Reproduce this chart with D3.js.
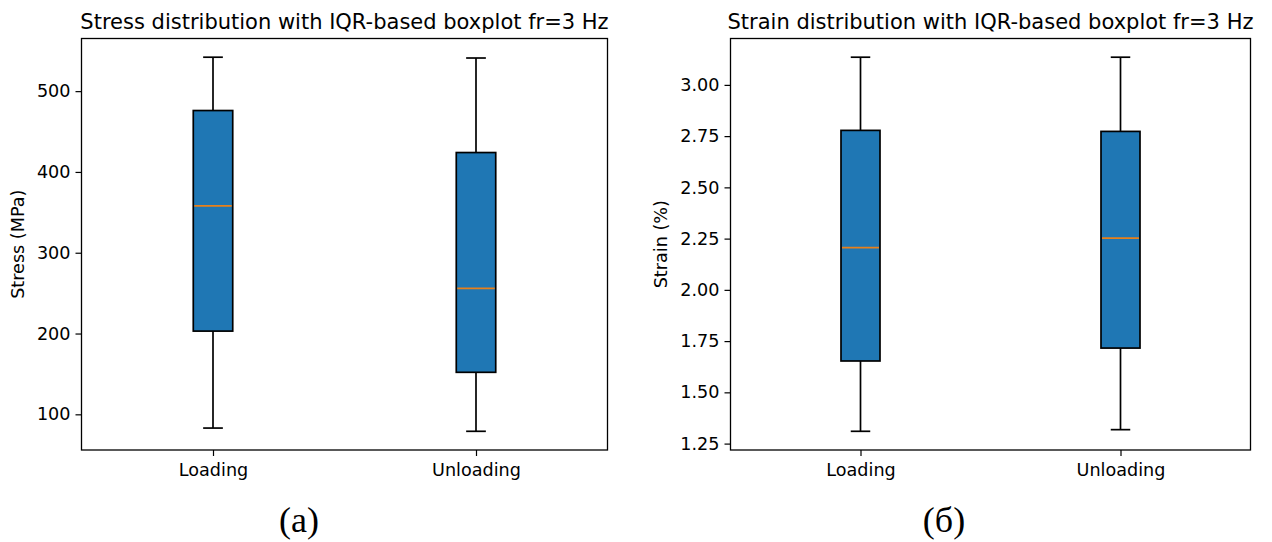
<!DOCTYPE html>
<html>
<head>
<meta charset="utf-8">
<script src="https://cdn.jsdelivr.net/npm/d3@7"></script>
<style>
  html, body { margin: 0; padding: 0; background: #fff; }
  svg { display: block; }
  text { font-family: "DejaVu Sans", sans-serif; fill: #000; }
</style>
</head>
<body>
<svg id="chart" width="1272" height="542"></svg>
<script>
// Box statistics per phase (whisker ends, quartiles, median)
const categories = ["Loading", "Unloading"];

const stressLow    = [83, 79];
const stressQ1     = [203, 152];
const stressMedian = [358, 256];
const stressQ3     = [476, 424];
const stressHigh   = [542, 541];
const stressTicks  = [100, 200, 300, 400, 500];

const strainLow    = [1.31, 1.318];
const strainQ1     = [1.653, 1.716];
const strainMedian = [2.206, 2.252];
const strainQ3     = [2.778, 2.773];
const strainHigh   = [3.135, 3.135];
const strainTicks  = [1.25, 1.50, 1.75, 2.00, 2.25, 2.50, 2.75, 3.00];

const panels = [
  {
    title: "Stress distribution with IQR-based boxplot fr=3 Hz",
    ylabel: "Stress (MPa)",
    caption: "(a)",
    low: stressLow, q1: stressQ1, med: stressMedian, q3: stressQ3, high: stressHigh,
    ticks: stressTicks, fmt: d3.format("d"),
    frame: { x0: 81.5, x1: 607.5, y0: 38.5, y1: 450 },
    ylabelX: 24, captionX: 299
  },
  {
    title: "Strain distribution with IQR-based boxplot fr=3 Hz",
    ylabel: "Strain (%)",
    caption: "(б)",
    low: strainLow, q1: strainQ1, med: strainMedian, q3: strainQ3, high: strainHigh,
    ticks: strainTicks, fmt: d3.format(".2f"),
    frame: { x0: 730.5, x1: 1250.5, y0: 38.5, y1: 450 },
    ylabelX: 667, captionX: 944
  }
];

const svg = d3.select("#chart");
const boxColor = "#1f77b4";
const medianColor = "#e8801a";
const boxWidth = 0.15;   // in position units
const capWidth = 0.075;
const tickFont = "17.6px";
const titleFont = "21px";

panels.forEach(p => {
  const f = p.frame;
  const g = svg.append("g");

  // autoscaled y range with 5% margins around the whisker extent
  const lo = d3.min(p.low), hi = d3.max(p.high);
  const pad = (hi - lo) * 0.05;
  const y = d3.scaleLinear().domain([lo - pad, hi + pad]).range([f.y1, f.y0]);
  const x = d3.scaleLinear().domain([0.5, 2.5]).range([f.x0, f.x1]);
  const pos = categories.map((c, i) => i + 1);

  // y axis
  const yAxis = d3.axisLeft(y).tickValues(p.ticks).tickFormat(p.fmt)
    .tickSize(6).tickPadding(5);
  const ya = g.append("g").attr("transform", `translate(${f.x0},0)`).call(yAxis);
  ya.select(".domain").remove();
  ya.selectAll(".tick line").attr("stroke", "#000").attr("stroke-width", 1.2);
  ya.selectAll(".tick text").style("font-size", tickFont).attr("fill", "#000")
    .style("font-family", "DejaVu Sans, sans-serif");

  // x axis
  const xAxis = d3.axisBottom(x).tickValues(pos).tickFormat((d, i) => categories[i])
    .tickSize(6).tickPadding(8);
  const xa = g.append("g").attr("transform", `translate(0,${f.y1})`).call(xAxis);
  xa.select(".domain").remove();
  xa.selectAll(".tick line").attr("stroke", "#000").attr("stroke-width", 1.2);
  xa.selectAll(".tick text").style("font-size", tickFont).attr("fill", "#000")
    .style("font-family", "DejaVu Sans, sans-serif");

  // boxes
  const data = categories.map((c, i) => ({
    p: pos[i], low: p.low[i], q1: p.q1[i], med: p.med[i], q3: p.q3[i], high: p.high[i]
  }));

  const b = g.selectAll(".bx").data(data).join("g").attr("class", "bx");

  // whiskers
  b.append("line")
    .attr("x1", d => x(d.p)).attr("x2", d => x(d.p))
    .attr("y1", d => y(d.q3)).attr("y2", d => y(d.high))
    .attr("stroke", "#000").attr("stroke-width", 1.7);
  b.append("line")
    .attr("x1", d => x(d.p)).attr("x2", d => x(d.p))
    .attr("y1", d => y(d.q1)).attr("y2", d => y(d.low))
    .attr("stroke", "#000").attr("stroke-width", 1.7);
  // caps
  b.append("line")
    .attr("x1", d => x(d.p - capWidth / 2)).attr("x2", d => x(d.p + capWidth / 2))
    .attr("y1", d => y(d.high)).attr("y2", d => y(d.high))
    .attr("stroke", "#000").attr("stroke-width", 1.7);
  b.append("line")
    .attr("x1", d => x(d.p - capWidth / 2)).attr("x2", d => x(d.p + capWidth / 2))
    .attr("y1", d => y(d.low)).attr("y2", d => y(d.low))
    .attr("stroke", "#000").attr("stroke-width", 1.7);
  // interquartile box
  b.append("rect")
    .attr("x", d => x(d.p - boxWidth / 2))
    .attr("width", d => x(d.p + boxWidth / 2) - x(d.p - boxWidth / 2))
    .attr("y", d => y(d.q3))
    .attr("height", d => y(d.q1) - y(d.q3))
    .attr("fill", boxColor).attr("stroke", "#000").attr("stroke-width", 1.7);
  // median
  b.append("line")
    .attr("x1", d => x(d.p - boxWidth / 2) + 1).attr("x2", d => x(d.p + boxWidth / 2) - 1)
    .attr("y1", d => y(d.med)).attr("y2", d => y(d.med))
    .attr("stroke", medianColor).attr("stroke-width", 1.7);

  // frame
  g.append("rect")
    .attr("x", f.x0).attr("y", f.y0)
    .attr("width", f.x1 - f.x0).attr("height", f.y1 - f.y0)
    .attr("fill", "none").attr("stroke", "#000").attr("stroke-width", 1.3);

  // title
  g.append("text")
    .attr("x", (f.x0 + f.x1) / 2).attr("y", 29)
    .attr("text-anchor", "middle")
    .style("font-size", titleFont)
    .text(p.title);

  // y label
  g.append("text")
    .attr("transform", `translate(${p.ylabelX},${(f.y0 + f.y1) / 2}) rotate(-90)`)
    .attr("text-anchor", "middle")
    .style("font-size", tickFont)
    .text(p.ylabel);

  // panel caption
  g.append("text")
    .attr("x", p.captionX).attr("y", 532)
    .attr("text-anchor", "middle")
    .style("font-family", "'Liberation Serif', 'Times New Roman', serif")
    .style("font-size", "36px")
    .text(p.caption);
});
</script>
</body>
</html>
